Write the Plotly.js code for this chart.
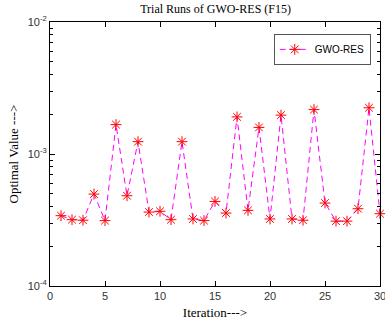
<!DOCTYPE html>
<html><head><meta charset="utf-8">
<script src="https://cdn.plot.ly/plotly-3.0.1.min.js"></script>
<style>html,body{margin:0;padding:0;background:#fff}#chart{width:385px;height:327px}</style>
</head><body><div id="chart"></div>
<script>
const iterations = [1,2,3,4,5,6,7,8,9,10,11,12,13,14,15,16,17,18,19,20,21,22,23,24,25,26,27,28,29,30];
const optimalValues = [3.41e-4,3.18e-4,3.15e-4,4.97e-4,3.13e-4,1.67e-3,4.83e-4,1.24e-3,3.63e-4,3.68e-4,3.18e-4,1.24e-3,3.22e-4,3.13e-4,4.37e-4,3.57e-4,1.91e-3,3.74e-4,1.59e-3,3.22e-4,1.97e-3,3.22e-4,3.15e-4,2.17e-3,4.25e-4,3.10e-4,3.10e-4,3.85e-4,2.24e-3,3.53e-4];
const yTickVals = [1e-4,1e-3,1e-2];
const yTickText = ['10<sup>-4</sup>','10<sup>-3</sup>','10<sup>-2</sup>'];
const xTickVals = [0,5,10,15,20,25,30];
const seriesName = 'GWO-RES';

const minorVals = [];
[1e-4,1e-3].forEach(d=>{for(let k=2;k<=9;k++) minorVals.push(k*d);});

const trace = {
  x: iterations, y: optimalValues, name: seriesName,
  type: 'scatter', mode: 'lines+markers', cliponaxis: false,
  line: {color: '#ff00ff', width: 1, dash: '6px,4px'},
  marker: {symbol: 'asterisk-open', size: 9, color: '#ff0000', line: {color: '#ff0000', width: 1}}
};
const tickFont = {family: 'Liberation Sans, Arial, sans-serif', size: 11, color: '#333'};
const layout = {
  width: 385, height: 327,
  margin: {l: 50, r: 5, t: 22, b: 41},
  paper_bgcolor: '#fff', plot_bgcolor: '#fff',
  showlegend: true,
  title: {text: 'Trial Runs of GWO-RES (F15)', font: {family: 'Liberation Serif, Times New Roman, serif', size: 12, color: '#000'}, x: 0.56, xanchor: 'center', y: 0.985, yanchor: 'top'},
  xaxis: {
    range: [0, 30], tickvals: xTickVals, ticks: 'inside', ticklen: 5, tickcolor: '#000',
    ticklabeloverflow: 'allow',
    showline: true, linecolor: '#000', linewidth: 1, mirror: 'allticks', showgrid: false, zeroline: false,
    tickfont: tickFont,
    title: {text: 'Iteration--->', font: {family: 'Liberation Serif, Times New Roman, serif', size: 13, color: '#000'}, standoff: 6}
  },
  yaxis: {
    type: 'log', range: [-4, -2], tickvals: yTickVals, ticktext: yTickText,
    ticks: 'inside', ticklen: 5, tickcolor: '#000',
    showline: true, linecolor: '#000', linewidth: 1, mirror: 'allticks', showgrid: false, zeroline: false,
    tickfont: tickFont,
    minor: {tickmode: 'array', tickvals: minorVals, ticks: 'inside', ticklen: 3, tickcolor: '#000', showgrid: false},
    title: {text: 'Optimal Value --->', font: {family: 'Liberation Serif, Times New Roman, serif', size: 13, color: '#000'}, standoff: 6}
  },
  legend: {x: 0.972, y: 0.955, xanchor: 'right', yanchor: 'top', bordercolor: '#555', borderwidth: 1, bgcolor: '#fff',
    font: {family: 'Liberation Sans, Arial, sans-serif', size: 10, color: '#000'}, itemwidth: 30, tracegroupgap: 0}
};
Plotly.newPlot('chart', [trace], layout, {displayModeBar: false, staticPlot: true});
</script></body></html>
